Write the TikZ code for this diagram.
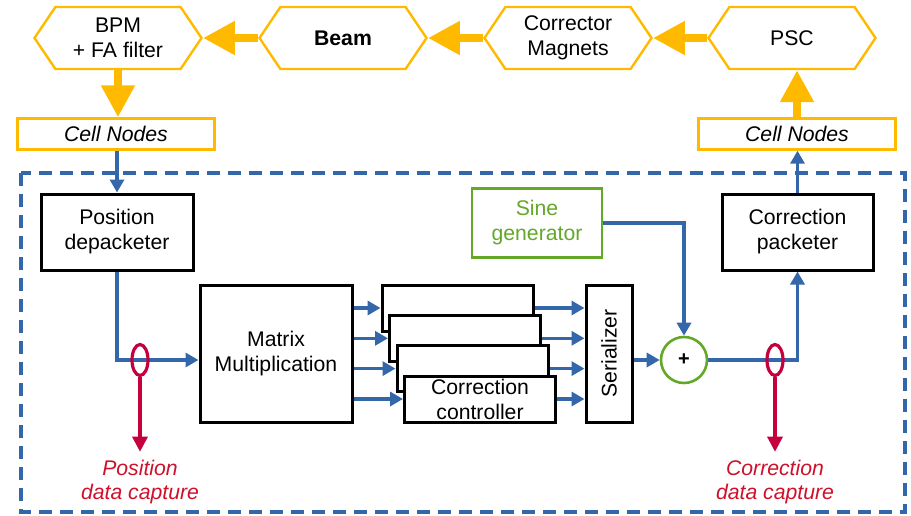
\documentclass[tikz,border=0pt]{standalone}
\usepackage{fontspec}
\setmainfont{Liberation Sans}
\usetikzlibrary{shapes.symbols,shapes.geometric,arrows.meta,calc}

\definecolor{fofbyellow}{RGB}{255,186,0}
\definecolor{fofbblue}{RGB}{52,102,170}
\definecolor{fofbgreen}{RGB}{100,168,40}
\definecolor{fofbred}{RGB}{196,0,62}
\definecolor{fofbredtext}{RGB}{206,16,42}

\begin{document}
\begin{tikzpicture}[x=0.5pt,y=-0.5pt,>=latex,font=\fontsize{10.6}{12.5}\selectfont]
  \tikzset{
    hexbox/.style={signal, signal to=east and west, signal pointer angle=112,
      draw=fofbyellow, line width=1.2pt, minimum width=83.5pt,
      minimum height=31pt, inner sep=0pt, align=center},
    cellbox/.style={rectangle, draw=fofbyellow, line width=1.2pt,
      minimum width=98.5pt, minimum height=15.5pt, inner sep=0pt,
      font=\fontsize{10.6}{12.5}\selectfont\itshape},
    blockbox/.style={rectangle, draw, line width=1.5pt, fill=white,
      minimum width=76pt, minimum height=38pt, inner sep=0pt, align=center},
    ctrlbox/.style={blockbox, minimum width=75.5pt, minimum height=23pt},
    flow/.style={draw=fofbblue, line width=1.8pt,
      -{Triangle[width=7pt,length=6.5pt]}},
    bigflow/.style={draw=fofbyellow, line width=4pt,
      -{Triangle[width=16pt,length=16pt]}},
    capring/.style={ellipse, draw=fofbred, line width=1.6pt,
      minimum width=8pt, minimum height=15.5pt, inner sep=0pt},
    caparrow/.style={draw=fofbred, line width=1.6pt,
      -{Triangle[width=7.5pt,length=7.5pt]}},
    captext/.style={text=fofbredtext, align=center, inner sep=4pt,
      font=\fontsize{10.6}{12}\selectfont\itshape}
  }
  \useasboundingbox (0,0) rectangle (911,515);

  % machine side: top row of hexagons
  \node[hexbox] (bpm) at (118,38) {BPM\\+ FA filter};
  \node[hexbox] (beam) at (343,38) {\bfseries Beam};
  \node[hexbox] (magnets) at (568,38) {Corrector\\Magnets};
  \node[hexbox] (psc) at (792,38) {PSC};

  \node[cellbox] (cellL) at (116,134) {Cell Nodes};
  \node[cellbox] (cellR) at (797,134) {Cell Nodes};

  \draw[bigflow] (psc.west) -- (magnets.east);
  \draw[bigflow] (magnets.west) -- (beam.east);
  \draw[bigflow] (beam.west) -- (bpm.east);
  \draw[bigflow] (bpm.south) -- (bpm.south |- cellL.north);
  \draw[bigflow] (cellR.north) -- (cellR.north |- psc.south);

  % processing frame
  \draw[fofbblue, line width=2pt, dash pattern=on 6.5pt off 4pt]
    (21,173) rectangle (905,512);

  \node[blockbox] (depack) at (117,232) {Position\\depacketer};
  \node[blockbox, minimum height=68.5pt] (matrix) at (276,353.5)
    {Matrix\\Multiplication};
  % stack of controllers, each shifted down and right
  \foreach \i in {1,2,3}
    \node[ctrlbox] (ctrl\i) at ($(457.5,308)+(\i*7.5-7.5,\i*30.3-30.3)$) {};
  \node[ctrlbox] (ctrl4) at (480,399) {Correction\\controller};
  \node[blockbox, minimum width=23pt, minimum height=68.5pt] (serial)
    at (609,353.5) {\rotatebox{90}{Serializer}};
  \node[circle, draw=fofbgreen, line width=1.3pt, minimum size=23pt,
    inner sep=0pt, font=\bfseries] (sum) at (684,360) {+};
  \node[blockbox, draw=fofbgreen, line width=1.3pt, text=fofbgreen,
    minimum width=65pt, minimum height=34.5pt] (sine) at (537,223)
    {Sine\\generator};
  \node[blockbox, minimum width=75.5pt] (pack) at (797.5,232)
    {Correction\\packeter};

  % tap points for the data capture
  \coordinate (tapL) at (140,360);
  \coordinate (tapR) at (775,360);

  \draw[flow] (depack.north |- cellL.south) -- (depack.north);
  \draw[flow] (depack.south) |- (tapL) -- (tapL -| matrix.west);
  \foreach \i in {1,...,4} {
    \draw[flow] (matrix.east |- ctrl\i.west) -- (ctrl\i.west);
    \draw[flow] (ctrl\i.east) -- (ctrl\i.east -| serial.west);
  }
  \draw[flow] (serial.east |- sum.west) -- (sum.west);
  \draw[flow] (sine.east) -| (sum.north);
  \draw[flow] (sum.east) -| (pack.south);
  \draw[flow] (pack.north) -- (pack.north |- cellR.south);

  % data capture
  \node[capring] (capL) at (tapL) {};
  \node[capring] (capR) at (tapR) {};
  \node[captext] (posCap) at (140,482) {Position\\data capture};
  \node[captext] (corrCap) at (775,482) {Correction\\data capture};
  \draw[caparrow] (capL.south) -- (posCap.north);
  \draw[caparrow] (capR.south) -- (corrCap.north);
\end{tikzpicture}
\end{document}
